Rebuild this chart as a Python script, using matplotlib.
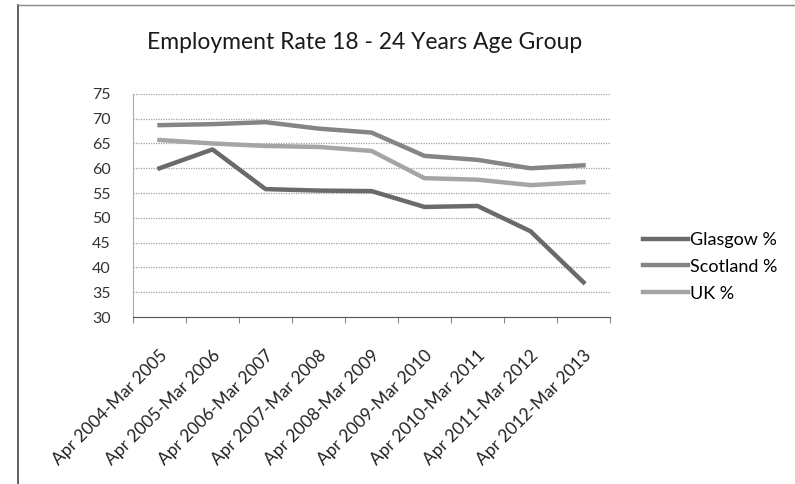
import numpy as np
import matplotlib
matplotlib.use("Agg")
import matplotlib.pyplot as plt
from matplotlib.lines import Line2D

# data
periods = ["Apr 2004-Mar 2005", "Apr 2005-Mar 2006", "Apr 2006-Mar 2007",
           "Apr 2007-Mar 2008", "Apr 2008-Mar 2009", "Apr 2009-Mar 2010",
           "Apr 2010-Mar 2011", "Apr 2011-Mar 2012", "Apr 2012-Mar 2013"]
glasgow = [60.0, 63.8, 55.8, 55.5, 55.4, 52.2, 52.4, 47.3, 37.0]
scotland = [68.7, 68.9, 69.3, 68.0, 67.2, 62.5, 61.7, 60.0, 60.6]
uk = [65.7, 65.0, 64.5, 64.3, 63.5, 58.0, 57.7, 56.6, 57.2]
yticks = [30, 35, 40, 45, 50, 55, 60, 65, 70, 75]

plt.rcParams['font.family'] = ['Lato', 'DejaVu Sans']

fig = plt.figure(figsize=(7.95, 4.84), dpi=100)
ax = fig.add_axes([0.1673, 0.345, 0.6, 0.461])

x = np.arange(len(periods))
ax.plot(x, glasgow, color='#6a6a6a', lw=3.2, label='Glasgow %', solid_joinstyle='round')
ax.plot(x, scotland, color='#858585', lw=3.2, label='Scotland %', solid_joinstyle='round')
ax.plot(x, uk, color='#a5a5a5', lw=3.2, label='UK %', solid_joinstyle='round')

ax.set_xlim(-0.5, len(periods) - 0.5)
ax.set_ylim(30, 75)
ax.set_yticks(yticks)
ax.tick_params(axis='y', length=0, labelsize=11.5, pad=16, colors='#333333')
ax.set_xticks(np.arange(len(periods) + 1) - 0.5, minor=False)
ax.set_xticklabels([])
ax.set_xticks(x, minor=True)
ax.set_xticklabels(periods, minor=True, rotation=45, ha='right', va='top',
                   rotation_mode='anchor', fontsize=12.5, color='#222222')
ax.tick_params(axis='x', which='major', length=4, color='#888888', direction='out')
ax.tick_params(axis='x', which='minor', length=0, pad=22)

ax.grid(axis='y', color='#a0a0a0', linestyle=(0, (1, 1)), lw=0.9)
ax.set_axisbelow(True)
for s in ['top', 'right']:
    ax.spines[s].set_visible(False)
ax.spines['left'].set_color('#aaaaaa')
ax.spines['left'].set_linestyle((0, (1, 1)))
ax.spines['bottom'].set_color('#555555')

fig.text(0.459, 0.913, 'Employment Rate 18 - 24 Years Age Group',
         ha='center', va='center', fontsize=16.5, color='#1a1a1a')

ax.legend(loc='center left', bbox_to_anchor=(1.035, 0.225), frameon=False,
          fontsize=13, handlelength=2.5, handletextpad=0.1, labelspacing=0.6)

# outer chart frame (scanned border)
fig.add_artist(Line2D([0.023, 0.023], [0.0, 0.99], color='#444444', lw=1.2))
fig.add_artist(Line2D([0.023, 1.0], [0.99, 0.99], color='#888888', lw=1.0))

fig.savefig("out.png", dpi=100)
